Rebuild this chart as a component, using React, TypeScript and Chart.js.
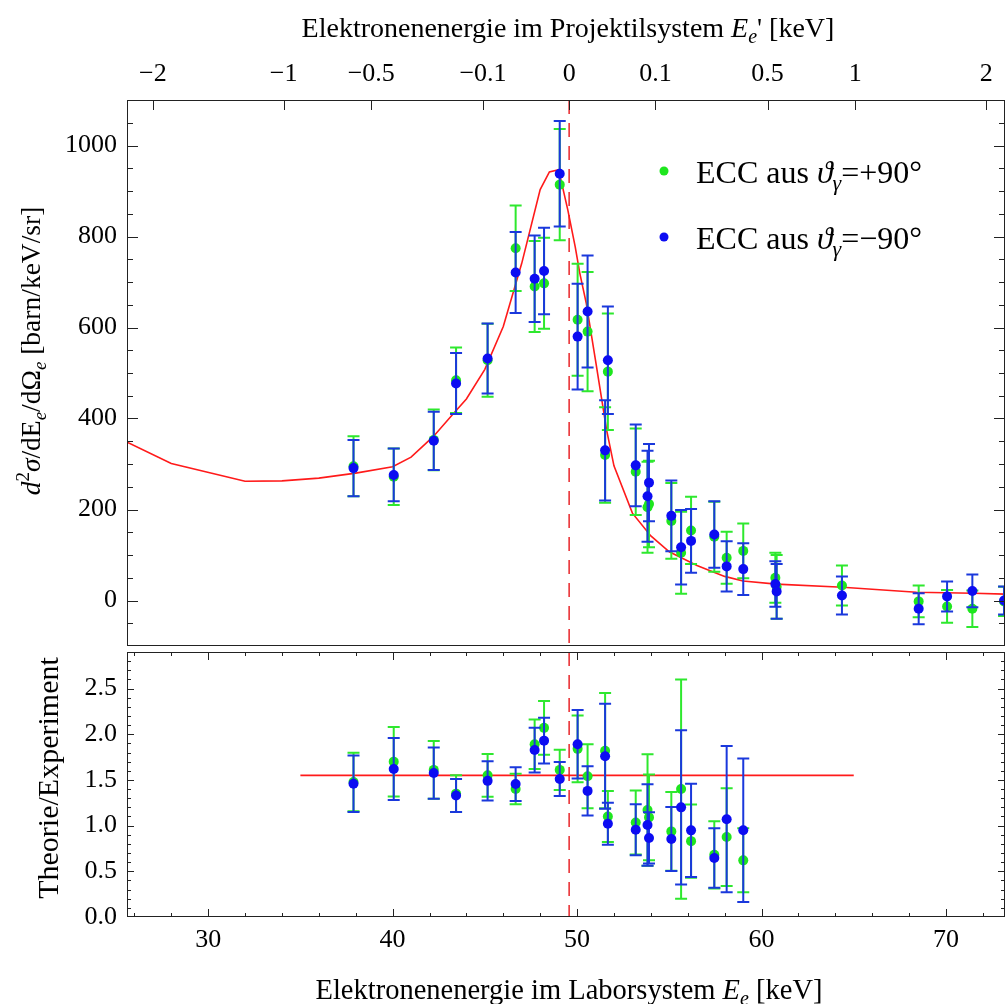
import React, { useEffect, useRef } from 'react';
import { Chart, registerables } from 'chart.js';

Chart.register(...registerables);

const FONT = '"Liberation Serif", "Times New Roman", "DejaVu Serif", serif';

// ---------- data ----------
const energies = [37.88, 40.06, 42.23, 43.44, 45.15, 46.67, 47.7, 48.21, 49.06, 50.03, 50.57, 51.52, 51.67, 53.18, 53.82, 53.9, 55.11, 55.64, 56.18, 57.44, 58.11, 59.01, 60.75, 60.82, 64.36, 68.52, 70.06, 71.43, 73.15];
const crossGreen = [295, 272, 353, 484, 528, 774, 690, 697, 914, 617, 591, 320, 503, 283, 205, 212, 175, 105, 154, 140, 94, 109, 50, 30, 33, -2, -13, -18, -2];
const crossGreenErr = [66, 62, 67, 72, 80, 94, 100, 100, 122, 123, 131, 105, 128, 95, 100, 95, 83, 90, 74, 77, 57, 60, 55, 70, 44, 35, 36, 40, 32];
const crossBlue = [291, 276, 351, 477, 532, 721, 707, 724, 938, 580, 635, 330, 528, 297, 229, 259, 186, 117, 131, 145, 75, 69, 36, 20, 11, -18, 9, 21, 0];
const crossBlueErr = [62, 58, 64, 67, 77, 89, 95, 95, 116, 116, 123, 110, 118, 90, 100, 85, 78, 82, 70, 73, 55, 57, 50, 60, 42, 34, 33, 36, 31];

const ratioEnergies = [37.88, 40.06, 42.23, 43.44, 45.15, 46.67, 47.7, 48.21, 49.06, 50.03, 50.57, 51.52, 51.67, 53.18, 53.82, 53.9, 55.11, 55.64, 56.18, 57.44, 58.11, 59.01];
const ratioGreen = [1.477, 1.7, 1.61, 1.35, 1.55, 1.4, 1.89, 2.07, 1.61, 1.84, 1.54, 1.82, 1.1, 1.035, 1.17, 1.09, 0.937, 1.4, 0.83, 0.68, 0.875, 0.62];
const ratioGreenErr = [0.32, 0.38, 0.315, 0.2, 0.235, 0.167, 0.27, 0.295, 0.22, 0.365, 0.35, 0.63, 0.28, 0.35, 0.61, 0.47, 0.43, 1.2, 0.4, 0.367, 0.535, 0.35];
const ratioBlue = [1.458, 1.62, 1.575, 1.33, 1.49, 1.455, 1.827, 1.93, 1.51, 1.89, 1.38, 1.76, 1.02, 0.955, 1.007, 0.865, 0.853, 1.2, 0.948, 0.645, 1.07, 0.95];
const ratioBlueErr = [0.31, 0.34, 0.28, 0.18, 0.215, 0.185, 0.245, 0.25, 0.185, 0.375, 0.27, 0.575, 0.23, 0.28, 0.445, 0.28, 0.35, 0.845, 0.51, 0.325, 0.8, 0.785];

const theoryE = [25.5, 28, 32, 34, 36, 38, 40, 41, 42.2, 43.3, 44, 45, 46, 47, 48, 48.5, 49, 49.5, 49.9, 50.15, 50.5, 51, 51.6, 52, 53, 54, 55, 56.5, 58, 59, 60.8, 64.4, 68.4, 71.5, 73.3];
const theoryCross = [350, 301, 262, 263, 269, 280, 294, 315, 360, 411, 443, 508, 602, 741, 903, 942, 947, 858, 777, 719, 653, 528, 375, 296, 192, 142, 107, 77, 53, 43, 36, 29, 18, 16, 14];

const ratioLineE = [35, 65];
const ratioLineV = [1.55, 1.55];
const cuspEnergy = 49.57;

const topTickPos = [27.0, 34.09, 38.84, 44.9, 49.57, 54.25, 60.33, 65.08, 72.18];
const topTickLabels = ['\u22122', '\u22121', '\u22120.5', '\u22120.1', '0', '0.1', '0.5', '1', '2'];
const crossTicks = [0, 200, 400, 600, 800, 1000];
const ratioTicks = [0, 0.5, 1, 1.5, 2, 2.5];
const labTicks = [30, 40, 50, 60, 70];

const legendLabels = ['+90\u00b0', '\u221290\u00b0'];

// ---------- style ----------
const X_MIN = 25.6;
const X_MAX = 73.2;
const GREEN_PT = '#1ee61e';
const GREEN_BAR = '#2ee82e';
const BLUE_PT = '#0c0cf2';
const BLUE_BAR = '#1a38dc';
const RED = '#ff1a1a';
const FRAME = '#222';

type Seg = { t: string; it?: boolean; sub?: boolean; sup?: boolean };

function drawRich(ctx: CanvasRenderingContext2D, segs: Seg[], x: number, y: number, size: number, align: 'center' | 'left') {
  const fontOf = (s: Seg) => `${s.it ? 'italic ' : ''}${s.sub || s.sup ? Math.round(size * 0.7) : size}px ${FONT}`;
  let total = 0;
  const ws = segs.map((s) => {
    ctx.font = fontOf(s);
    const w = ctx.measureText(s.t).width;
    total += w;
    return w;
  });
  let cx = align === 'center' ? x - total / 2 : x;
  ctx.textAlign = 'left';
  ctx.textBaseline = 'alphabetic';
  segs.forEach((s, i) => {
    ctx.font = fontOf(s);
    const dy = s.sub ? size * 0.22 : s.sup ? -size * 0.4 : 0;
    ctx.fillText(s.t, cx, y + dy);
    cx += ws[i];
  });
}

function stepValues(min: number, max: number, step: number): number[] {
  const out: number[] = [];
  for (let k = Math.ceil(min / step - 1e-9); k * step <= max + 1e-9; k++) out.push(+(k * step).toFixed(6));
  return out;
}

function fixBox(dim: 'width' | 'height', size: number) {
  return (s: any) => {
    s[dim] = size;
    s.paddingTop = 0;
    s.paddingBottom = 0;
    s.paddingLeft = 0;
    s.paddingRight = 0;
  };
}

type PanelCfg = {
  yMajor: number; yMinor: number; yMajLen: number; yMinLen: number;
  xMajor?: number; xMinor?: number; xMajLen?: number; xMinLen?: number;
  topTicks?: number[]; topLen?: number;
  extra?: (ctx: CanvasRenderingContext2D, chart: any) => void;
};

function makePlugin(cfg: PanelCfg) {
  return {
    id: 'panelDeco',
    beforeDatasetsDraw(chart: any) {
      const { ctx, chartArea } = chart;
      const px = chart.scales.x.getPixelForValue(cuspEnergy);
      ctx.save();
      ctx.strokeStyle = '#e8262a';
      ctx.lineWidth = 1.5;
      ctx.setLineDash([14, 9]);
      ctx.beginPath();
      ctx.moveTo(px, chartArea.top);
      ctx.lineTo(px, chartArea.bottom);
      ctx.stroke();
      ctx.restore();
    },
    beforeDatasetDraw(chart: any, args: any) {
      const ds = chart.data.datasets[args.index];
      if (!ds.errors) return;
      const { ctx, chartArea } = chart;
      const ys = chart.scales.y;
      const xs = chart.scales.x;
      ctx.save();
      ctx.beginPath();
      ctx.rect(chartArea.left, chartArea.top, chartArea.right - chartArea.left, chartArea.bottom - chartArea.top);
      ctx.clip();
      ctx.strokeStyle = ds.barColor;
      ctx.lineWidth = 2;
      ds.data.forEach((p: any, i: number) => {
        const x = xs.getPixelForValue(p.x);
        const y0 = ys.getPixelForValue(p.y - ds.errors[i]);
        const y1 = ys.getPixelForValue(p.y + ds.errors[i]);
        ctx.beginPath();
        ctx.moveTo(x, y0);
        ctx.lineTo(x, y1);
        ctx.moveTo(x - 6, y0);
        ctx.lineTo(x + 6, y0);
        ctx.moveTo(x - 6, y1);
        ctx.lineTo(x + 6, y1);
        ctx.stroke();
      });
      ctx.restore();
    },
    afterDraw(chart: any) {
      const { ctx, chartArea } = chart;
      const { left, right, top, bottom } = chartArea;
      const xs = chart.scales.x;
      const ys = chart.scales.y;
      ctx.save();
      ctx.strokeStyle = FRAME;
      ctx.lineWidth = 1;
      const h = (py: number, x0: number, x1: number) => {
        const p = Math.round(py) + 0.5;
        ctx.beginPath(); ctx.moveTo(x0, p); ctx.lineTo(x1, p); ctx.stroke();
      };
      const v = (px: number, y0: number, y1: number) => {
        const p = Math.round(px) + 0.5;
        ctx.beginPath(); ctx.moveTo(p, y0); ctx.lineTo(p, y1); ctx.stroke();
      };
      const yMin = ys.min, yMax = ys.max;
      const yMaj = stepValues(yMin, yMax, cfg.yMajor);
      stepValues(yMin, yMax, cfg.yMinor).forEach((val) => {
        const isMaj = yMaj.some((m) => Math.abs(m - val) < 1e-6);
        const len = isMaj ? cfg.yMajLen : cfg.yMinLen;
        const py = ys.getPixelForValue(val);
        if (py < top + 1 || py > bottom - 1) return;
        h(py, left, left + len);
        h(py, right - len, right);
      });
      if (cfg.xMajor && cfg.xMinor) {
        const xMaj = stepValues(X_MIN, X_MAX, cfg.xMajor);
        stepValues(X_MIN, X_MAX, cfg.xMinor).forEach((val) => {
          const isMaj = xMaj.some((m) => Math.abs(m - val) < 1e-6);
          const len = isMaj ? cfg.xMajLen! : cfg.xMinLen!;
          const px = xs.getPixelForValue(val);
          if (px < left + 1 || px > right - 1) return;
          v(px, bottom, bottom - len);
          v(px, top, top + len);
        });
      }
      if (cfg.topTicks) {
        cfg.topTicks.forEach((val) => {
          const px = xs.getPixelForValue(val);
          v(px, top, top + (cfg.topLen || 10));
        });
      }
      ctx.strokeRect(left + 0.5, top + 0.5, right - left - 1, bottom - top - 1);
      ctx.restore();
      if (cfg.extra) {
        ctx.save();
        ctx.fillStyle = '#000';
        cfg.extra(ctx, chart);
        ctx.restore();
      }
    },
  };
}

const tickFont = { family: FONT, size: 26 };

function topExtra(ctx: CanvasRenderingContext2D) {
  drawRich(ctx, [
    { t: 'Elektronenenergie im Projektilsystem ' },
    { t: 'E', it: true },
    { t: 'e', it: true, sub: true },
    { t: "' [keV]" },
  ], 568, 37, 28, 'center');
  ctx.save();
  ctx.translate(40, 351);
  ctx.rotate(-Math.PI / 2);
  drawRich(ctx, [
    { t: 'd', it: true },
    { t: '2', sup: true },
    { t: '\u03c3', it: true },
    { t: '/dE' },
    { t: 'e', it: true, sub: true },
    { t: '/d\u03a9' },
    { t: 'e', it: true, sub: true },
    { t: ' [barn/keV/sr]' },
  ], 0, 0, 27.5, 'center');
  ctx.restore();
  const colors = [GREEN_PT, BLUE_PT];
  const ys = [171, 237];
  legendLabels.forEach((lab, i) => {
    ctx.fillStyle = colors[i];
    ctx.beginPath();
    ctx.arc(664, ys[i], 4.5, 0, Math.PI * 2);
    ctx.fill();
    ctx.fillStyle = '#000';
    drawRich(ctx, [
      { t: 'ECC aus ' },
      { t: '\u03d1', it: true },
      { t: '\u03b3', it: true, sub: true },
      { t: '=' + lab },
    ], 696, ys[i] + 12, 32, 'left');
  });
}

function bottomExtra(ctx: CanvasRenderingContext2D) {
  drawRich(ctx, [
    { t: 'Elektronenenergie im Laborsystem ' },
    { t: 'E', it: true },
    { t: 'e', it: true, sub: true },
    { t: ' [keV]' },
  ], 569, 349, 28.5, 'center');
  ctx.save();
  ctx.translate(58, 128);
  ctx.rotate(-Math.PI / 2);
  drawRich(ctx, [{ t: 'Theorie/Experiment' }], 0, 0, 30, 'center');
  ctx.restore();
}

export default function App() {
  const topRef = useRef<HTMLCanvasElement>(null);
  const botRef = useRef<HTMLCanvasElement>(null);

  useEffect(() => {
    const common = {
      responsive: false,
      maintainAspectRatio: false,
      animation: false as const,
      devicePixelRatio: 1,
      events: [] as any[],
      plugins: { legend: { display: false }, tooltip: { enabled: false } },
    };
    const top = new Chart(topRef.current!, {
      type: 'scatter',
      data: {
        datasets: [
          {
            type: 'line',
            data: theoryE.map((x, i) => ({ x, y: theoryCross[i] })),
            borderColor: RED,
            borderWidth: 1.6,
            pointRadius: 0,
            fill: false,
            tension: 0,
            order: 3,
          } as any,
          {
            data: energies.map((x, i) => ({ x, y: crossGreen[i] })),
            errors: crossGreenErr,
            barColor: GREEN_BAR,
            backgroundColor: GREEN_PT,
            borderWidth: 0,
            pointRadius: 5,
            order: 2,
          } as any,
          {
            data: energies.map((x, i) => ({ x, y: crossBlue[i] })),
            errors: crossBlueErr,
            barColor: BLUE_BAR,
            backgroundColor: BLUE_PT,
            borderWidth: 0,
            pointRadius: 5,
            order: 1,
          } as any,
        ],
      },
      options: {
        ...common,
        layout: { autoPadding: false, padding: { top: 0, left: 0, right: 1, bottom: 0 } },
        scales: {
          x: {
            type: 'linear', position: 'bottom', min: X_MIN, max: X_MAX,
            ticks: { display: false }, grid: { display: false, drawTicks: false }, border: { display: false },
            afterFit: fixBox('height', 4),
          },
          xTop: {
            type: 'linear', position: 'top', min: X_MIN, max: X_MAX,
            afterBuildTicks: (s: any) => { s.ticks = topTickPos.map((v) => ({ value: v })); },
            ticks: {
              autoSkip: false, maxRotation: 0, padding: 10, font: tickFont, color: '#000',
              callback: (_v: any, i: number) => topTickLabels[i],
            },
            grid: { display: false, drawTicks: false }, border: { display: false },
            afterFit: fixBox('height', 100),
          },
          y: {
            type: 'linear', position: 'left', min: -100, max: 1100,
            afterBuildTicks: (s: any) => { s.ticks = crossTicks.map((v) => ({ value: v })); },
            ticks: { padding: 10, font: tickFont, color: '#000', callback: (v: any) => String(v) },
            grid: { display: false, drawTicks: false }, border: { display: false },
            afterFit: fixBox('width', 127),
          },
        } as any,
      },
      plugins: [makePlugin({
        yMajor: 200, yMinor: 50, yMajLen: 11, yMinLen: 6,
        topTicks: topTickPos, topLen: 10,
        extra: topExtra,
      })],
    } as any);

    const bot = new Chart(botRef.current!, {
      type: 'scatter',
      data: {
        datasets: [
          {
            type: 'line',
            data: ratioLineE.map((x, i) => ({ x, y: ratioLineV[i] })),
            borderColor: RED,
            borderWidth: 1.6,
            pointRadius: 0,
            fill: false,
            order: 3,
          } as any,
          {
            data: ratioEnergies.map((x, i) => ({ x, y: ratioGreen[i] })),
            errors: ratioGreenErr,
            barColor: GREEN_BAR,
            backgroundColor: GREEN_PT,
            borderWidth: 0,
            pointRadius: 5,
            order: 2,
          } as any,
          {
            data: ratioEnergies.map((x, i) => ({ x, y: ratioBlue[i] })),
            errors: ratioBlueErr,
            barColor: BLUE_BAR,
            backgroundColor: BLUE_PT,
            borderWidth: 0,
            pointRadius: 5,
            order: 1,
          } as any,
        ],
      },
      options: {
        ...common,
        layout: { autoPadding: false, padding: { top: 2, left: 0, right: 1, bottom: 0 } },
        scales: {
          x: {
            type: 'linear', position: 'bottom', min: X_MIN, max: X_MAX,
            afterBuildTicks: (s: any) => { s.ticks = labTicks.map((v) => ({ value: v })); },
            ticks: { autoSkip: false, maxRotation: 0, padding: 8, font: tickFont, color: '#000', callback: (v: any) => String(v) },
            grid: { display: false, drawTicks: false }, border: { display: false },
            afterFit: fixBox('height', 87),
          },
          y: {
            type: 'linear', position: 'left', min: 0, max: 2.9,
            afterBuildTicks: (s: any) => { s.ticks = ratioTicks.map((v) => ({ value: v })); },
            ticks: { padding: 10, font: tickFont, color: '#000', callback: (v: any) => Number(v).toFixed(1) },
            grid: { display: false, drawTicks: false }, border: { display: false },
            afterFit: fixBox('width', 127),
          },
        } as any,
      },
      plugins: [makePlugin({
        yMajor: 0.5, yMinor: 0.1, yMajLen: 7, yMinLen: 4,
        xMajor: 10, xMinor: 2, xMajLen: 8, xMinLen: 4,
        extra: bottomExtra,
      })],
    } as any);

    return () => {
      top.destroy();
      bot.destroy();
    };
  }, []);

  return (
    <div style={{ position: 'absolute', left: 0, top: 0, width: 1006, height: 1004, background: '#fff', overflow: 'hidden' }}>
      <canvas ref={topRef} width={1006} height={650} style={{ position: 'absolute', left: 0, top: 0, width: 1006, height: 650 }} />
      <canvas ref={botRef} width={1006} height={354} style={{ position: 'absolute', left: 0, top: 650, width: 1006, height: 354 }} />
    </div>
  );
}
